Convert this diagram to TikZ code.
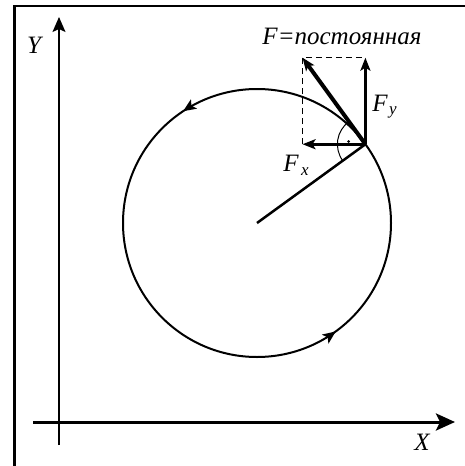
\documentclass[tikz,border=0pt]{standalone}
\usepackage{fontspec}
\setmainfont{Liberation Serif}
\usetikzlibrary{arrows.meta,decorations.markings}
\begin{document}
\begin{tikzpicture}[x=1pt,y=1pt,
  lbl/.style={font=\fontsize{25}{28}\selectfont\itshape, inner sep=0pt},
  tipsmall/.style={-{Stealth[length=13pt,width=10pt,inset=3pt]}},
  sub/.style={font=\fontsize{17}{19}\selectfont\itshape, inner sep=0pt},
  circarrow/.style={decoration={markings,
      mark=at position 0.343 with {\arrow{Stealth[length=13pt,width=11pt,inset=3pt]}},
      mark=at position 0.85 with {\arrow{Stealth[length=13pt,width=11pt,inset=3pt]}}},
      postaction={decorate}}]
\useasboundingbox (0,0) rectangle (465,-466);
% frame (cut at right and bottom)
\draw[line width=2.5pt] (14.5,-466) -- (14.5,-6) -- (465,-6);
% axes
\coordinate (ybot) at (59,-445);
\coordinate (ytop) at (59,-17);
\draw[line width=1.5pt,-{Stealth[length=15pt,width=13pt,inset=3pt]}] (ybot) -- (ytop);
\coordinate (xl) at (33,-422);
\coordinate (xr) at (455,-422);
\draw[line width=3pt,-{Stealth[length=19pt,width=17pt,inset=4pt]}] (xl) -- (xr);
\node[lbl] (ylab) at (34,-45) {Y};
\node[lbl] (xlab) at (422,-442) {X};
% circle
\coordinate (C) at (257,-223);
\draw[line width=2pt,circarrow] (C) circle (134);
\path (C) ++(36:134) coordinate (P);
\draw[line width=2.5pt] (C) -- (P);
% forces
\path (P) ++(126:107) coordinate (Ft);
\coordinate (Fx) at (Ft |- P);
\coordinate (Fy) at (P |- Ft);
\draw[line width=1.2pt,dash pattern=on 6pt off 4pt] (Fx) -- (Ft) -- (Fy);
\draw[line width=3pt,tipsmall] (P) -- (Fx);
\draw[line width=3pt,tipsmall] (P) -- (Fy);
\draw[line width=4pt,tipsmall] (P) -- (Ft);
% right angle mark
\draw[line width=1pt] (P) ++(126:28) arc[start angle=126,end angle=216,radius=28];
\fill (P) ++(171:17) circle (1.5);
% labels
\node[lbl] (ttl) at (342,-36) {F=постоянная};
\node[lbl] (fyF) at (380,-103) {F};
\node[sub] (fys) at (393,-112) {y};
\node[lbl] (fxF) at (291,-163) {F};
\node[sub] (fxs) at (305,-172) {x};
\end{tikzpicture}
\end{document}
